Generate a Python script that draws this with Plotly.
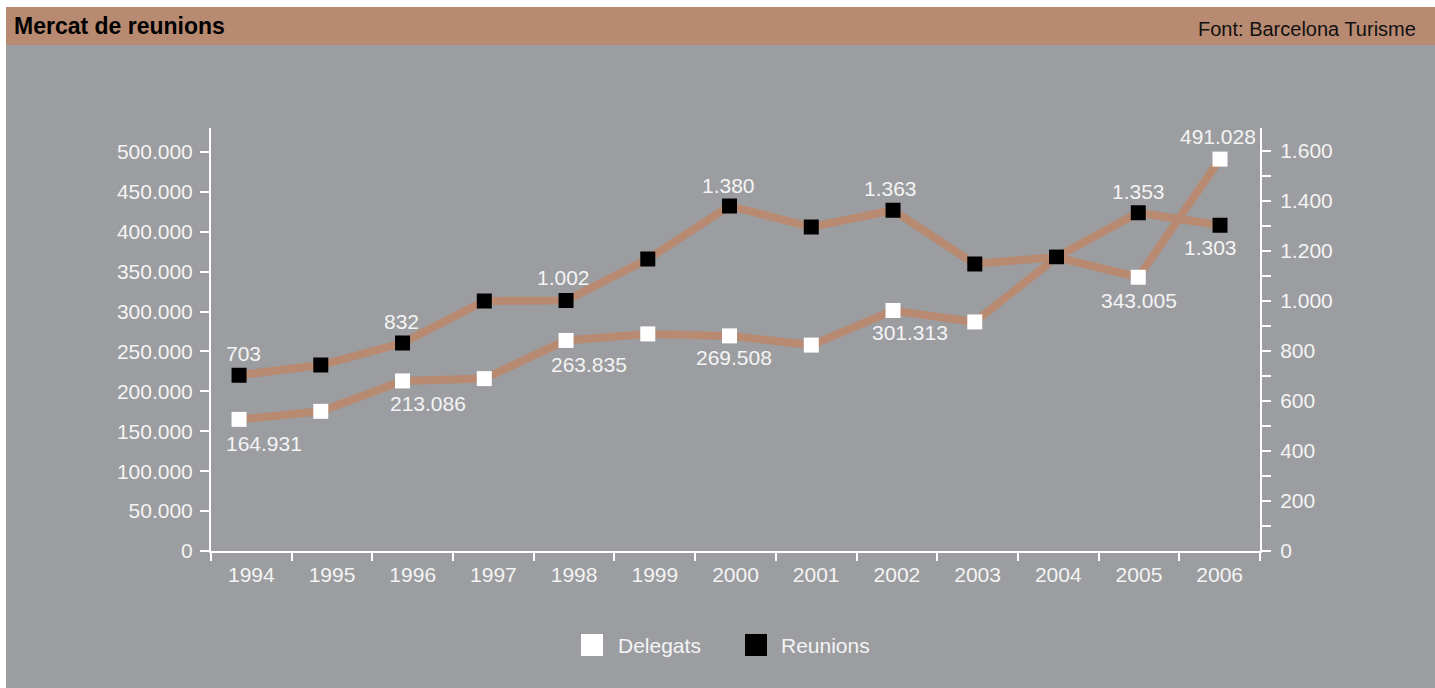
import plotly.graph_objects as go

# ---- data ----
years = [1994, 1995, 1996, 1997, 1998, 1999, 2000, 2001, 2002, 2003, 2004, 2005, 2006]
delegats = [164931, 175000, 213086, 216000, 263835, 272000, 269508, 258000, 301313, 287000, 368000, 343005, 491028]
reunions = [703, 744, 832, 1000, 1002, 1168, 1380, 1296, 1363, 1148, 1176, 1353, 1303]
delegats_labeled = [1994, 1996, 1998, 2000, 2002, 2005, 2006]
reunions_labeled = [1994, 1996, 1998, 2000, 2002, 2005, 2006]
left_ticks = list(range(0, 500001, 50000))
right_ticks = list(range(0, 1601, 200))

title = "Mercat de reunions"
source = "Font: Barcelona Turisme"

# ---- style ----
W, H = 1435, 688
L, R, T, B = 211, 1260, 128, 551  # plot area in pixels
BROWN = "#b88a72"
GRAY = "#9c9da1"
TXT = "#f4f4f4"
FONT = "Liberation Sans, Arial, Helvetica, sans-serif"
# label nudges (pixels) for labelled points, in the order of the *_labeled lists
del_dx = [25, 25, 23, 4, 17, 1, -2]
del_dy = [-24, -23, -24, -22, -22, -23, 23]
reu_dx = [4, -1, -3, -1, -3, 0, -10]
reu_dy = [22, 22, 23, 21, 22, 21, -22]


def px(x):
    return (x - L) / (R - L)


def py(y):
    return (B - y) / (B - T)


def fmt(v):
    return f"{v:,}".replace(",", ".")


fig = go.Figure()
fig.add_trace(go.Scatter(
    x=years, y=delegats, name="Delegats", mode="lines+markers",
    line=dict(color=BROWN, width=8),
    marker=dict(symbol="square", size=15, color="white", line=dict(width=0)),
    xaxis="x", yaxis="y", cliponaxis=False, showlegend=False, hoverinfo="skip",
))
fig.add_trace(go.Scatter(
    x=years, y=reunions, name="Reunions", mode="lines+markers",
    line=dict(color=BROWN, width=8),
    marker=dict(symbol="square", size=15, color="black", line=dict(width=0)),
    xaxis="x", yaxis="y2", cliponaxis=False, showlegend=False, hoverinfo="skip",
))
# empty carrier trace so the category (year) axis gets drawn
fig.add_trace(go.Scatter(
    x=years, y=[None] * len(years), mode="markers", xaxis="x2", yaxis="y",
    showlegend=False, hoverinfo="skip", marker=dict(opacity=0),
))

annotations = []
for i, yr in enumerate(delegats_labeled):
    v = delegats[years.index(yr)]
    annotations.append(dict(text=fmt(v), x=yr, y=v, xref="x", yref="y", showarrow=False,
                            xanchor="center", yanchor="middle",
                            xshift=del_dx[i], yshift=del_dy[i],
                            font=dict(family=FONT, size=21, color=TXT)))
for i, yr in enumerate(reunions_labeled):
    v = reunions[years.index(yr)]
    annotations.append(dict(text=fmt(v), x=yr, y=v, xref="x", yref="y2", showarrow=False,
                            xanchor="center", yanchor="middle",
                            xshift=reu_dx[i], yshift=reu_dy[i],
                            font=dict(family=FONT, size=21, color=TXT)))

annotations += [
    dict(text=f"<b>{title}</b>", xref="paper", yref="paper", x=px(12), y=py(26),
         xanchor="left", yanchor="middle", showarrow=False,
         font=dict(family=FONT, size=23, color="black")),
    dict(text=source, xref="paper", yref="paper", x=px(1418), y=py(29),
         xanchor="right", yanchor="middle", showarrow=False,
         font=dict(family=FONT, size=20, color="#111111")),
    dict(text="Delegats", xref="paper", yref="paper", x=px(616), y=py(645),
         xanchor="left", yanchor="middle", showarrow=False,
         font=dict(family=FONT, size=21, color=TXT)),
    dict(text="Reunions", xref="paper", yref="paper", x=px(779), y=py(645),
         xanchor="left", yanchor="middle", showarrow=False,
         font=dict(family=FONT, size=21, color=TXT)),
]

axis_common = dict(showgrid=False, zeroline=False, showline=True, linecolor="white",
                   linewidth=2, tickcolor="white", tickwidth=2,
                   tickfont=dict(family=FONT, size=21, color=TXT))

boundaries = [y - 0.5 for y in years] + [years[-1] + 0.5]

fig.update_layout(
    width=W, height=H,
    margin=dict(l=L, r=W - R, t=T, b=H - B, pad=0),
    paper_bgcolor="white",
    plot_bgcolor="rgba(0,0,0,0)",
    separators=",.",
    font=dict(family=FONT, color=TXT, size=21),
    xaxis=dict(visible=False, range=[1993.657, 2006.489], showgrid=False, zeroline=False),
    xaxis2=dict(overlaying="x", anchor="y", range=[years[0] - 0.5, years[-1] + 0.5],
                tickmode="array", tickvals=years, ticktext=[str(y) for y in years],
                ticks="", ticklabelstandoff=4,
                minor=dict(tickmode="array", tickvals=boundaries, ticks="outside",
                           ticklen=8, tickwidth=2, tickcolor="white"),
                **axis_common),
    yaxis=dict(range=[0, 530000], tickmode="array", tickvals=left_ticks,
               tickformat=",d", ticks="outside", ticklen=9, ticklabelstandoff=3,
               **axis_common),
    yaxis2=dict(overlaying="y", side="right", anchor="x", range=[0, 1692],
                tickmode="array", tickvals=right_ticks, tickformat=",d",
                ticks="outside", ticklen=9, ticklabelstandoff=5,
                minor=dict(dtick=100, ticks="outside", ticklen=9, tickwidth=2,
                           tickcolor="white"),
                **axis_common),
    shapes=[
        dict(type="rect", xref="paper", yref="paper", x0=px(6), x1=px(W), y0=py(H), y1=py(45),
             fillcolor=GRAY, line=dict(width=0), layer="below"),
        dict(type="rect", xref="paper", yref="paper", x0=px(6), x1=px(W), y0=py(45), y1=py(7),
             fillcolor=BROWN, line=dict(width=0), layer="below"),
        dict(type="rect", xref="paper", yref="paper", x0=px(581), x1=px(603), y0=py(656), y1=py(634),
             fillcolor="white", line=dict(width=0)),
        dict(type="rect", xref="paper", yref="paper", x0=px(745), x1=px(767), y0=py(656), y1=py(634),
             fillcolor="black", line=dict(width=0)),
    ],
    annotations=annotations,
)

fig.write_html(
    "out.html",
    config={"displayModeBar": False},
    post_script="document.body.style.margin='0';document.body.style.overflow='hidden';",
)
